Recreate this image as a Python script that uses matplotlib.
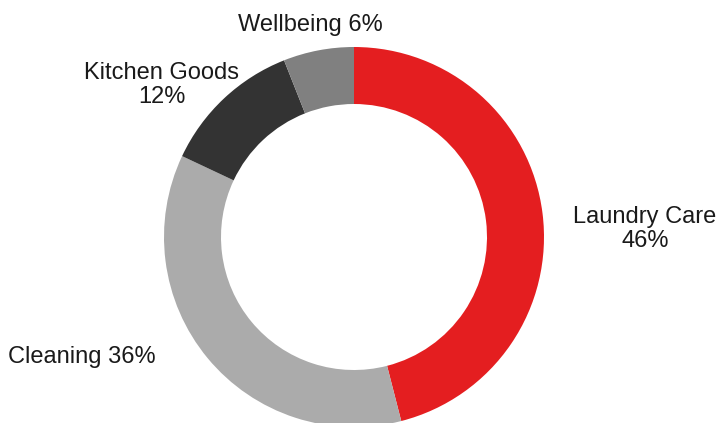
import matplotlib.pyplot as plt

categories = ['Laundry Care', 'Cleaning', 'Kitchen Goods', 'Wellbeing']
shares = [46, 36, 12, 6]
colors = ['#E41E20', '#ABABAB', '#333333', '#808080']

W, H = 718, 423
fig = plt.figure(figsize=(W / 100, H / 100), dpi=100)
ax = fig.add_axes([0, 0, 1, 1])
plt.rcParams['font.family'] = ['Liberation Sans', 'DejaVu Sans']

# pixel coordinates, y measured from the bottom
cx, cy, R = 354, H - 237, 190
ax.pie(shares, colors=colors, startangle=90, counterclock=False,
       center=(cx, cy), radius=R, frame=True,
       wedgeprops=dict(width=57, linewidth=0))
ax.set_xlim(0, W)
ax.set_ylim(0, H)
ax.set_aspect('equal')
ax.axis('off')

fs = 17
labels = [
    (645, 229, 'center', f'{categories[0]}\n{shares[0]}%'),
    (8, 357, 'left', f'{categories[1]} {shares[1]}%'),
    (162, 85, 'center', f'{categories[2]}\n{shares[2]}%'),
    (310, 25, 'center', f'{categories[3]} {shares[3]}%'),
]
for x, y, ha, txt in labels:
    ax.text(x, H - y, txt, ha=ha, va='center', multialignment='center',
            fontsize=fs, color='#1a1a1a', linespacing=1.1)

fig.savefig('out.png', dpi=100)
